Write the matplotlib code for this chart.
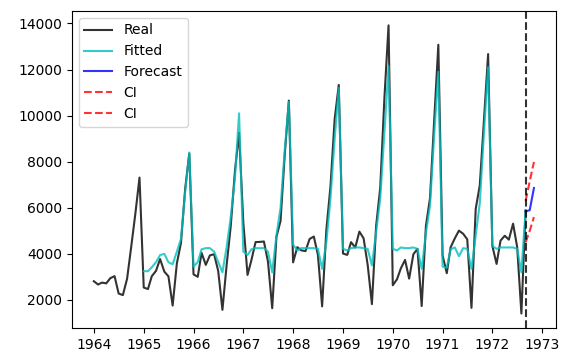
import numpy as np
import pandas as pd
import matplotlib
matplotlib.use('Agg')
import matplotlib.pyplot as plt

# monthly sales, jan 1964 - sep 1972
real = [2815, 2672, 2755, 2721, 2946, 3036, 2282, 2212, 2922, 4301, 5764, 7312,
        2541, 2475, 3031, 3266, 3776, 3230, 3028, 1759, 3595, 4474, 6838, 8357,
        3113, 3006, 4047, 3523, 3937, 3986, 3260, 1573, 3528, 5211, 7614, 9254,
        5375, 3088, 3718, 4514, 4520, 4539, 3663, 1643, 4739, 5428, 8314, 10651,
        3633, 4292, 4154, 4121, 4647, 4753, 3965, 1723, 5048, 6922, 9858, 11331,
        4016, 3957, 4510, 4276, 4968, 4677, 3523, 1821, 5222, 6872, 10803, 13916,
        2639, 2899, 3370, 3740, 2927, 3986, 4217, 1738, 5221, 6424, 9842, 13076,
        3934, 3162, 4286, 4676, 5010, 4874, 4633, 1659, 5951, 6981, 9851, 12670,
        4348, 3564, 4577, 4788, 4618, 5312, 4298, 1413, 5877]

# fitted values, jan 1965 - sep 1972
fitted = [3250, 3250, 3420, 3640, 3950, 4000, 3640, 3550, 4100, 4650, 6700, 8400,
          3450, 3650, 4200, 4250, 4250, 4100, 3650, 3200, 4300, 5600, 7300, 10100,
          4100, 3950, 4200, 4250, 4250, 4250, 4100, 3200, 4800, 6000, 8500, 10600,
          4400, 4150, 4250, 4250, 4250, 4250, 4220, 3350, 4500, 6400, 9000, 11200,
          4220, 4150, 4250, 4280, 4280, 4250, 4220, 3500, 4950, 6400, 9300, 12150,
          4220, 4150, 4280, 4250, 4250, 4280, 4220, 3350, 4900, 6100, 9200, 11900,
          3450, 3400, 4200, 4280, 3900, 4250, 4220, 3350, 4800, 6200, 9300, 12100,
          4350, 4220, 4280, 4280, 4280, 4280, 4220, 3200, 5900]

forecast = [5840, 5900, 6860]
ci_upper = [6300, 7150, 7990]
ci_lower = [4500, 5000, 5600]

real_idx = pd.date_range('1964-01-01', periods=len(real), freq='MS')
fit_idx = pd.date_range('1965-01-01', periods=len(fitted), freq='MS')
fc_idx = pd.date_range('1972-09-01', periods=len(forecast), freq='MS')

fig = plt.figure(figsize=(5.61, 3.53), dpi=100)
ax = fig.add_axes([0.128, 0.071, 0.863, 0.898])

ax.plot(real_idx, real, color='k', alpha=0.8, label='Real')
ax.plot(fit_idx, fitted, color='c', alpha=0.8, label='Fitted')
ax.plot(fc_idx, forecast, color='b', alpha=0.8, label='Forecast')
ax.plot(fc_idx, ci_upper, 'r--', alpha=0.8, label='CI')
ax.plot(fc_idx, ci_lower, 'r--', alpha=0.8, label='CI')
ax.axvline(real_idx[-1], color='k', linestyle='--', alpha=0.8)

ax.legend(loc='upper left')
fig.savefig('out.png', dpi=100)
